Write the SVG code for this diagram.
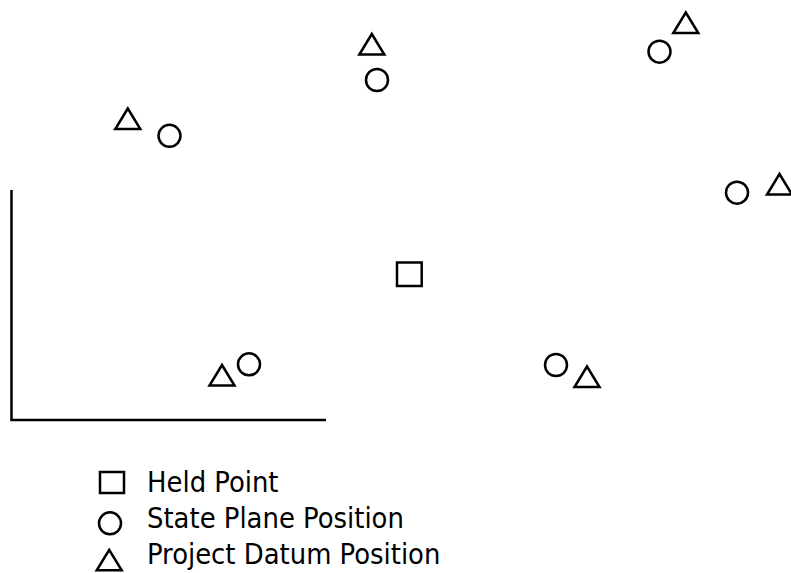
<svg xmlns="http://www.w3.org/2000/svg" xmlns:xlink="http://www.w3.org/1999/xlink" width="791" height="573" viewBox="0 0 791 573">
<style>
.s{fill:none;stroke:#000;stroke-width:2.5;stroke-linejoin:miter}
.t{font-family:"DejaVu Sans Condensed","DejaVu Sans",sans-serif;font-stretch:condensed;font-size:28.8px;fill:#000}
</style>
<defs>
<path id="tri" class="s" d="M0,0 L12.5,20.5 L-12.5,20.5 Z"/>
<circle id="cir" class="s" cx="0" cy="0" r="11"/>
</defs>
<rect width="791" height="573" fill="#fff"/>
<g id="axes">
<line class="s" x1="11.5" y1="190" x2="11.5" y2="421"/>
<line class="s" x1="10.5" y1="420" x2="326" y2="420"/>
</g>
<g id="held-point"><rect class="s" x="397" y="262.5" width="24.7" height="23.5"/></g>
<g id="pair1"><use xlink:href="#tri" x="127.8" y="108.5"/><use xlink:href="#cir" x="169.5" y="135.8"/></g>
<g id="pair2"><use xlink:href="#tri" x="371.8" y="34"/><use xlink:href="#cir" x="377" y="80"/></g>
<g id="pair3"><use xlink:href="#tri" x="685.8" y="12.5"/><use xlink:href="#cir" x="659.5" y="51.7"/></g>
<g id="pair4"><use xlink:href="#tri" x="779.5" y="174"/><use xlink:href="#cir" x="737" y="192.7"/></g>
<g id="pair5"><use xlink:href="#tri" x="222" y="365"/><use xlink:href="#cir" x="249" y="364.3"/></g>
<g id="pair6"><use xlink:href="#tri" x="587" y="366.5"/><use xlink:href="#cir" x="556" y="365"/></g>
<g id="legend">
<rect class="s" x="100" y="472" width="24" height="21"/>
<use xlink:href="#cir" x="110" y="523.3"/>
<use xlink:href="#tri" x="109.2" y="549.8"/>
<text class="t" x="147" y="492">Held Point</text>
<text class="t" x="147" y="528">State Plane Position</text>
<text class="t" x="147" y="564">Project Datum Position</text>
</g>
</svg>
